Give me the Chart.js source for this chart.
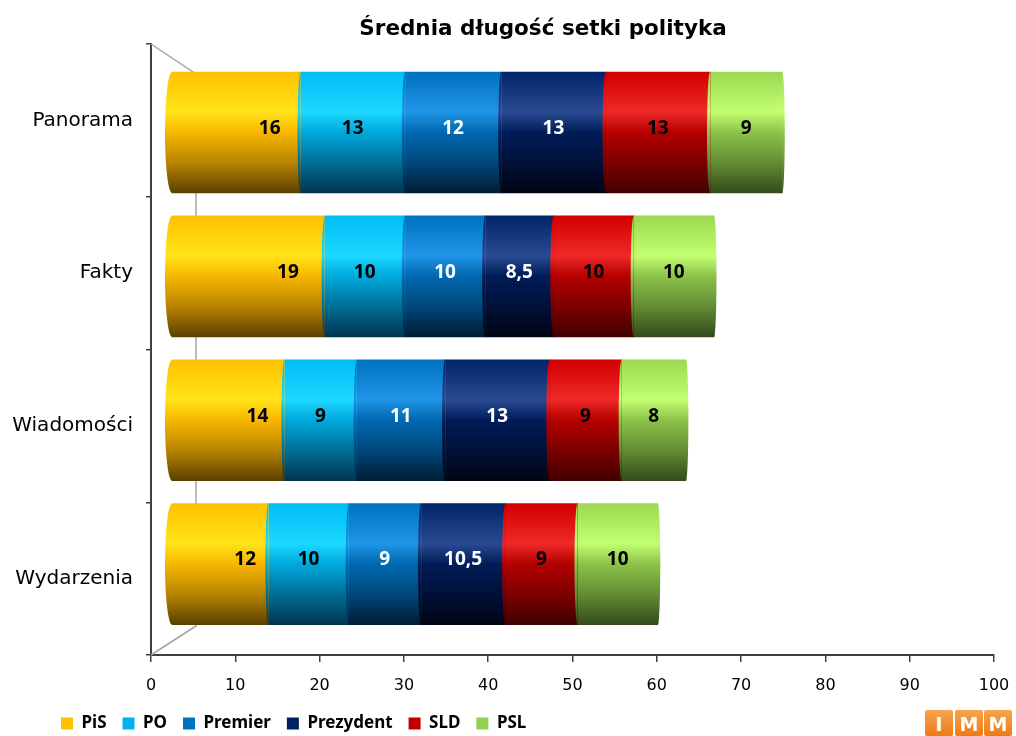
<!DOCTYPE html>
<html>
<head>
<meta charset="utf-8">
<script src="https://cdn.jsdelivr.net/npm/chart.js@4/dist/chart.umd.min.js"></script>
<style>
  body { margin: 0; background: #fff; }
  #wrap { position: relative; width: 1016px; height: 736px; }
  .logo { position: absolute; top: 710px; width: 28px; height: 26px; border-radius: 2px;
          background: linear-gradient(#f8a450, #ee7a14); color: #fff; text-align: center;
          font: bold 19px "DejaVu Sans", sans-serif; line-height: 28px; }
</style>
</head>
<body>
<div id="wrap">
  <canvas id="chartId" width="1016" height="736"></canvas>
  <div class="logo" style="left:925px">I</div>
  <div class="logo" style="left:955px">M</div>
  <div class="logo" style="left:984px">M</div>
</div>
<script>
// values (labels on the bars)
const categories = ["Panorama", "Fakty", "Wiadomości", "Wydarzenia"];
const seriesNames = ["PiS", "PO", "Premier", "Prezydent", "SLD", "PSL"];
const pis = [16, 19, 14, 12];
const po = [13, 10, 9, 10];
const premier = [12, 10, 11, 9];
const prezydent = [13, 8.5, 13, 10.5];
const sld = [13, 10, 9, 9];
const psl = [9, 10, 8, 10];
const xTickMax = 100;
const xTickStep = 10;

const seriesValues = [pis, po, premier, prezydent, sld, psl];
const seriesColors = ["#ffc000", "#00b0f0", "#0070c0", "#002060", "#c00000", "#92d050"];
const labelColors = ["#000", "#000", "#fff", "#fff", "#000", "#000"];
// cylinder shading, top to bottom
const shades = [
    ["#ffc200", "#ffe318", "#f8b600", "#b88400", "#5a4000"],
    ["#00bdf5", "#1cd8ff", "#00a8dc", "#006e96", "#003550"],
    ["#0070c0", "#2095e6", "#0068b0", "#00487c", "#001c34"],
    ["#00236a", "#2a4b92", "#001c58", "#001038", "#000514"],
    ["#d20000", "#f02828", "#b40000", "#7c0000", "#420000"],
    ["#9cd850", "#c2ff70", "#8cc24a", "#648c34", "#344a1c"]
];
const shadeStops = [0, 0.33, 0.5, 0.75, 1];
const barHeight = 121;

function cylinderFill(ctx) {
    let chart = ctx.chart;
    let rows = chart.scales.yb;
    if (ctx.dataIndex === undefined || !chart.chartArea || !rows) {
        return seriesColors[ctx.datasetIndex];
    }
    let mid = rows.getPixelForValue(ctx.dataIndex);
    let g = chart.ctx.createLinearGradient(0, mid - barHeight / 2, 0, mid + barHeight / 2);
    shades[ctx.datasetIndex].forEach((c, i) => g.addColorStop(shadeStops[i], c));
    return g;
}

// grey back wall of the 3d plot
const backWall = {
    id: "backWall",
    beforeDatasetsDraw(chart) {
        let a = chart.chartArea;
        let c = chart.ctx;
        c.save();
        c.strokeStyle = "#a6a6a6";
        c.lineWidth = 1.5;
        c.beginPath();
        c.moveTo(a.left, a.top);
        c.lineTo(a.left + 45, a.top + 30);
        c.lineTo(a.left + 45, a.bottom - 29);
        c.lineTo(a.left, a.bottom);
        c.stroke();
        c.restore();
    }
};

// elliptical ends so each stack reads as a cylinder
const cylinderEnds = {
    id: "cylinderEnds",
    afterDatasetsDraw(chart) {
        let c = chart.ctx;
        let last = chart.data.datasets.length - 1;
        c.save();
        chart.data.datasets.forEach((ds, di) => {
            chart.getDatasetMeta(di).data.forEach((bar) => {
                let h = bar.height / 2;
                c.fillStyle = bar.options.backgroundColor;
                c.beginPath();
                c.ellipse(bar.base, bar.y, di === 0 ? 7 : 3, h, 0, Math.PI / 2, Math.PI * 1.5);
                c.fill();
                if (di === last) {
                    c.beginPath();
                    c.ellipse(bar.x, bar.y, 2.5, h, 0, -Math.PI / 2, Math.PI / 2);
                    c.fill();
                }
            });
        });
        c.restore();
    }
};

const barLabels = {
    id: "barLabels",
    afterDatasetsDraw(chart) {
        let c = chart.ctx;
        c.save();
        c.font = "bold 19px 'Noto Sans'";
        c.textAlign = "center";
        c.textBaseline = "middle";
        chart.data.datasets.forEach((ds, di) => {
            chart.getDatasetMeta(di).data.forEach((bar, i) => {
                let left = Math.min(bar.x, bar.base);
                let right = Math.max(bar.x, bar.base);
                let lx = di === 0 ? left + (right - left) * 0.76 : (left + right) / 2;
                c.fillStyle = labelColors[di];
                c.fillText(String(ds.data[i].x).replace(".", ","), lx, bar.y - 4);
            });
        });
        c.restore();
    }
};

const chartTitle = {
    id: "chartTitle",
    afterDraw(chart) {
        let c = chart.ctx;
        c.save();
        c.font = "bold 21.5px 'DejaVu Sans'";
        c.fillStyle = "#000";
        c.textAlign = "center";
        c.textBaseline = "middle";
        c.fillText("Średnia długość setki polityka", 543, 29);
        c.restore();
    }
};

// legend sits further right than the layout box
const legendShift = {
    id: "legendShift",
    afterLayout(chart) {
        chart.legend.left += 45;
        chart.legend.right += 45;
    }
};

var chrt = document.getElementById("chartId").getContext("2d");
var chartId = new Chart(chrt, {
    type: "bar",
    data: {
        labels: categories,
        datasets: seriesNames.map((name, si) => ({
            label: name,
            data: seriesValues[si].map((v, i) => ({ x: v, y: i })),
            backgroundColor: cylinderFill,
            borderWidth: 0,
            barThickness: barHeight,
            xAxisID: "xb",
            yAxisID: "yb",
        })),
    },
    options: {
        responsive: false,
        animation: false,
        indexAxis: "y",
        layout: { padding: { top: 44, left: 0, right: 22, bottom: 0 } },
        scales: {
            x: {
                type: "linear",
                min: 0,
                max: xTickMax,
                afterFit: (s) => { s.height = 44; s.paddingRight = 0; s.paddingLeft = 0; },
                ticks: { stepSize: xTickStep, padding: 14, color: "#000", font: { family: "DejaVu Sans", size: 16 } },
                grid: { drawOnChartArea: false, tickLength: 7, color: "#404040", lineWidth: 1.5 },
                border: { color: "#404040", width: 2 },
            },
            y: {
                type: "category",
                offset: true,
                afterFit: (s) => { s.width = 151; },
                ticks: { padding: 13, color: "#000", font: { family: "DejaVu Sans", size: 20 } },
                grid: { offset: true, drawOnChartArea: false, tickLength: 5, color: "#404040", lineWidth: 1.5 },
                border: { color: "#404040", width: 2 },
            },
            xb: { type: "linear", display: false, stacked: true, min: -2.615, max: 102.37 },
            yb: { type: "linear", display: false, stacked: true, reverse: true, offset: false,
                  min: -0.615, max: 3.632, grid: { offset: false } },
        },
        plugins: {
            tooltip: { enabled: false },
            legend: {
                position: "bottom",
                align: "start",
                maxHeight: 37,
                labels: {
                    boxWidth: 12,
                    boxHeight: 12,
                    padding: 16,
                    color: "#000",
                    font: { family: "Noto Sans", size: 17, weight: "bold" },
                    generateLabels: (chart) =>
                        Chart.defaults.plugins.legend.labels.generateLabels(chart).map((item, i) => {
                            item.fillStyle = seriesColors[i];
                            item.strokeStyle = seriesColors[i];
                            item.lineWidth = 0;
                            return item;
                        }),
                },
            },
        },
    },
    plugins: [backWall, cylinderEnds, barLabels, chartTitle, legendShift],
});
</script>
</body>
</html>
